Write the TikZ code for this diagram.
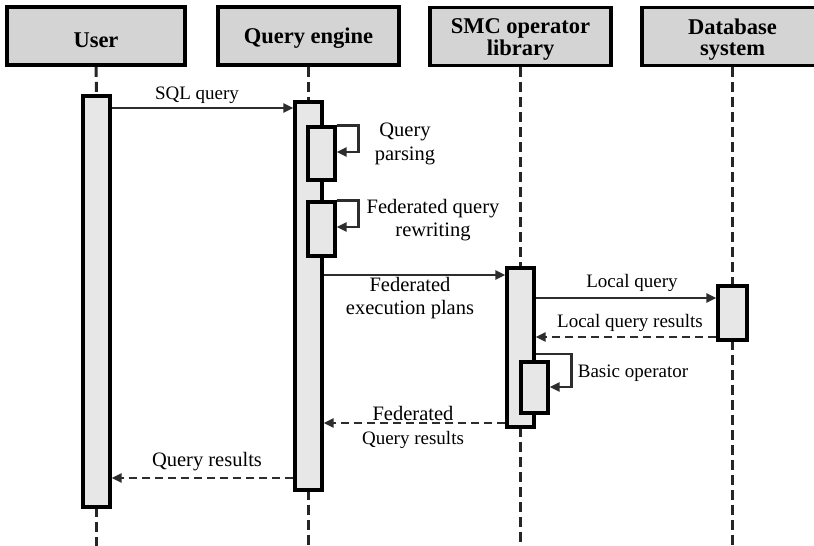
\documentclass[tikz,border=0pt]{standalone}
\usepackage{fontspec}
\setmainfont{Liberation Serif}
\usetikzlibrary{arrows.meta}
\definecolor{hdrfill}{RGB}{212,212,212}
\definecolor{barfill}{RGB}{231,231,231}
\definecolor{ink}{RGB}{45,45,45}

\begin{document}
\begin{tikzpicture}[x=1pt,y=-1pt,
  header/.style={draw=black, line width=3.6pt, fill=hdrfill, minimum height=58pt, inner sep=0pt},
  htext/.style={font=\fontsize{22.5}{21.5}\selectfont\bfseries, align=center, inner sep=0pt},
  bar/.style={draw=black, line width=3.3pt, fill=barfill, minimum width=27pt, inner sep=0pt},
  life/.style={draw=black!85, line width=3pt, dash pattern=on 10pt off 5pt},
  msg/.style={draw=ink, line width=2.8pt, -{Triangle[length=10pt,width=9pt]}},
  reply/.style={msg, dash pattern=on 8pt off 5pt},
  lbl/.style={font=\fontsize{19}{22}\selectfont, align=center, inner sep=0pt},
  lblw/.style={font=\fontsize{20.5}{23.5}\selectfont, align=center, inner sep=0pt},
]
\clip (0,0) rectangle (814,546);
\fill[white] (0,0) rectangle (814,546);

% participant headers
\node[header, minimum width=178pt] (hu) at (96,36) {};
\node[header, minimum width=181pt] (hq) at (308.5,36) {};
\node[header, minimum width=181pt] (hs) at (520.5,36.5) {};
\node[header, minimum width=181pt] (hd) at (732.5,36.5) {};
\node[htext] (tu) at ([yshift=-4pt]hu.center) {User};
\node[htext] (tq) at ([yshift=-2pt]hq.center) {Query engine};
\node[htext] (ts) at ([yshift=-3pt]hs.center) {SMC  operator\\library};
\node[htext] (td) at ([yshift=-3pt]hd.center) {Database\\system};

% lifeline ends at the bottom edge
\coordinate (eu) at (96.5,546);
\coordinate (eq) at (308.5,546);
\coordinate (es) at (520.5,546);
\coordinate (ed) at (732.5,546);

% lifelines
\draw[life] (hu.south) -- (96.5,96);
\draw[life] (hq.south) -- (308.5,102);
\draw[life] (hs.south) -- (520.5,268);
\draw[life] (hd.south) -- (732.5,286);
\draw[life] (96.5,507) -- (eu);
\draw[life] (308.5,490) -- (eq);
\draw[life] (520.5,427) -- (es);
\draw[life] (732.5,340) -- (ed);

% activation bars
\node[bar, minimum height=411pt] (ub) at (96.5,301.5) {};
\node[bar, minimum height=388pt] (qb) at (308.5,296) {};
\node[bar, minimum height=53pt] (pp) at (321.5,153.5) {};
\node[bar, minimum height=54pt] (rw) at (321.5,229) {};
\node[bar, minimum height=159pt] (sb) at (520.5,347.5) {};
\node[bar, minimum height=51pt] (bo) at (534.5,387.5) {};
\node[bar, minimum width=29pt, minimum height=54pt] (db) at (732.5,313) {};

% messages
\draw[msg] (ub.east |- 0,108) -- (qb.west |- 0,108);
\node[lbl] (lsql) at (197,95) {SQL query};

\draw[msg] (pp.north east) -- ++(22,0) |- (pp.east |- 0,152);
\node[lblw] (lparse) at (405,144) {Query\\parsing};

\draw[msg] (rw.north east) -- ++(22,0) |- (rw.east |- 0,227);
\node[lblw] (lrw) at (433,220) {Federated query\\rewriting};

\draw[msg] (qb.east |- 0,275) -- (sb.west |- 0,275);
\node[lblw] (lplan) at (410,298) {Federated\\execution plans};

\draw[msg] (sb.east |- 0,298) -- (db.west |- 0,298);
\node[lbl] (lloc) at (632,283) {Local query};

\draw[reply] (db.west |- 0,337) -- (sb.east |- 0,337);
\node[lbl] (llocr) at (630,323) {Local query results};

\draw[msg] (sb.east |- 0,354) -- ++(36,0) |- (bo.east |- 0,387);
\node[lbl] (lbasic) at (633,373) {Basic operator};

\draw[reply] (sb.west |- 0,423) -- (qb.east |- 0,423);
\node[lblw] (lfed) at (413,413) {Federated};
\node[lbl] (lfedr) at (413,440) {Query results};

\draw[reply] (qb.west |- 0,478) -- (ub.east |- 0,478);
\node[lblw] (lres) at (207,462) {Query results};
\end{tikzpicture}
\end{document}
